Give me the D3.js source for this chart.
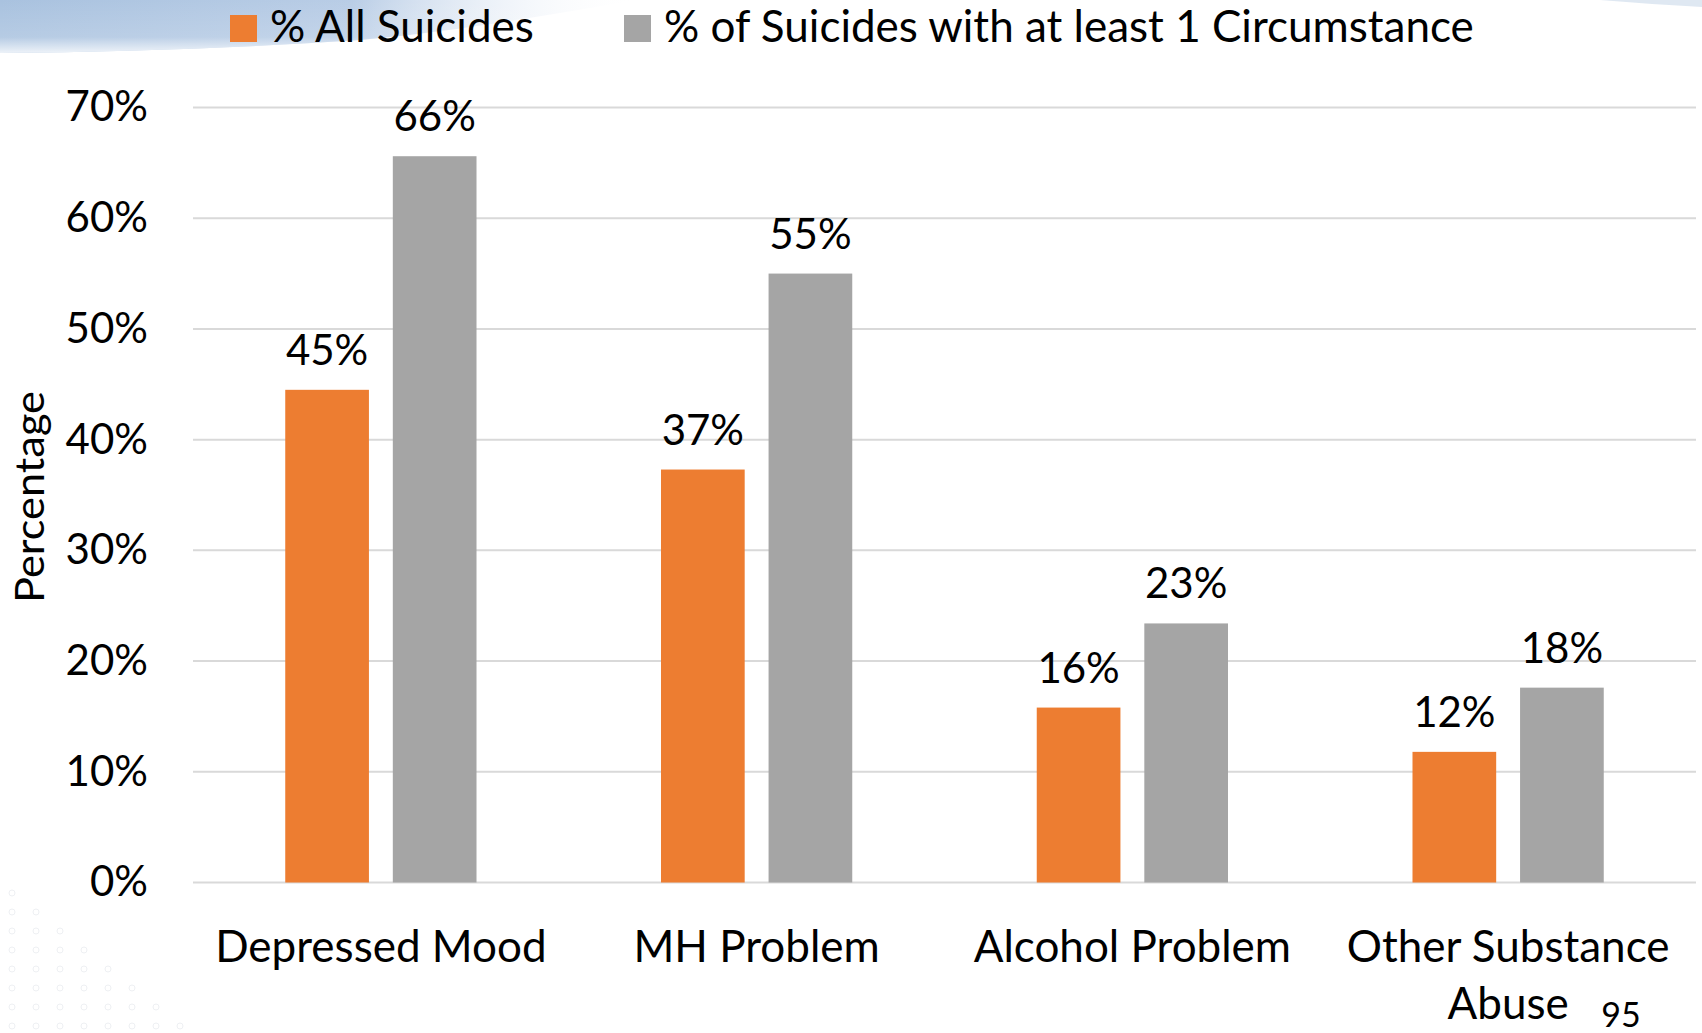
<!DOCTYPE html>
<html>
<head>
<meta charset="utf-8">
<script src="https://cdn.jsdelivr.net/npm/d3@7"></script>
<style>
    body { margin: 0; background: #fff; }
    svg { display: block; font-family: Lato, "Open Sans", sans-serif; }
</style>
</head>
<body>
<div id="chart"></div>
<script>
// chart data
const categories = ["Depressed Mood", "MH Problem", "Alcohol Problem", "Other Substance Abuse"];
const seriesNames = ["% All Suicides", "% of Suicides with at least 1 Circumstance"];
const allSuicides = [44.5, 37.3, 15.8, 11.8];
const withCircumstance = [65.6, 55.0, 23.4, 17.6];
const yTicks = [0, 10, 20, 30, 40, 50, 60, 70];
const pageNumber = "95";

const colors = ["#ED7D31", "#A5A5A5"];

let width = 1702, height = 1033;
let plot = { left: 193, right: 1696, top: 107.5, bottom: 882.5 };

let svg = d3.select("#chart").append("svg")
    .attr("width", width)
    .attr("height", height);

// background decoration (slide template)
let defs = svg.append("defs");
let grad = defs.append("linearGradient").attr("id", "sky").attr("x1", 0).attr("x2", 1).attr("y1", 0).attr("y2", 0);
grad.append("stop").attr("offset", "0%").attr("stop-color", "#a9c2df");
grad.append("stop").attr("offset", "55%").attr("stop-color", "#b9cde6");
grad.append("stop").attr("offset", "100%").attr("stop-color", "#ffffff").attr("stop-opacity", 0);
let grad2 = defs.append("linearGradient").attr("id", "skyv").attr("x1", 0).attr("x2", 0).attr("y1", 0).attr("y2", 1);
grad2.append("stop").attr("offset", "0%").attr("stop-color", "#ffffff").attr("stop-opacity", 0);
grad2.append("stop").attr("offset", "70%").attr("stop-color", "#ffffff").attr("stop-opacity", 0.15);
grad2.append("stop").attr("offset", "100%").attr("stop-color", "#ffffff").attr("stop-opacity", 0.8);

svg.append("path")
    .attr("d", "M0,0 L640,0 C560,12 470,30 360,40 C240,48 120,52 0,53 Z")
    .attr("fill", "url(#sky)");
svg.append("path")
    .attr("d", "M0,0 L640,0 C560,12 470,30 360,40 C240,48 120,52 0,53 Z")
    .attr("fill", "url(#skyv)");
svg.append("path")
    .attr("d", "M1600,0 L1702,0 L1702,7 C1670,5 1635,3 1600,0 Z")
    .attr("fill", "#c9d8ea").attr("opacity", 0.6);

// faint dot pattern bottom-left
let dots = [];
d3.range(8).forEach(r => d3.range(r + 1).forEach(c => dots.push([12 + c * 24, 893 + r * 19])));
svg.append("g").selectAll("circle")
    .data(dots)
    .enter().append("circle")
    .attr("cx", d => d[0]).attr("cy", d => d[1])
    .attr("r", 3)
    .attr("fill", "none")
    .attr("stroke", "#eef0f3")
    .attr("stroke-width", 1);

// scales
let x0 = d3.scaleBand()
    .domain(categories)
    .range([plot.left, plot.right])
    .paddingInner(0.491)
    .paddingOuter(0.2455);
let x1 = d3.scaleBand()
    .domain([0, 1])
    .range([0, x0.bandwidth()])
    .paddingInner(0.222);
let y = d3.scaleLinear().domain([0, 70]).range([plot.bottom, plot.top]);

// gridlines
svg.append("g")
    .selectAll("line")
    .data(yTicks)
    .enter().append("line")
    .attr("x1", plot.left).attr("x2", plot.right)
    .attr("y1", d => y(d)).attr("y2", d => y(d))
    .attr("stroke", "#d9d9d9")
    .attr("stroke-width", 2);

// y axis labels
let yAxis = svg.append("g")
    .attr("transform", `translate(${plot.left},0)`)
    .call(d3.axisLeft(y).tickValues(yTicks).tickFormat(d => d + "%").tickSize(0).tickPadding(45));
yAxis.select(".domain").remove();
yAxis.selectAll("text")
    .attr("font-family", "Lato, sans-serif")
    .attr("font-size", 42)
    .attr("fill", "#000");

svg.append("text")
    .attr("transform", `translate(44,${(plot.top + plot.bottom) / 2 + 2}) rotate(-90)`)
    .attr("text-anchor", "middle")
    .attr("font-size", 40)
    .attr("textLength", 212)
    .attr("lengthAdjust", "spacingAndGlyphs")
    .text("Percentage");

// bars
let rows = categories.map((c, i) => ({ cat: c, vals: [allSuicides[i], withCircumstance[i]] }));
let groups = svg.append("g")
    .selectAll("g")
    .data(rows)
    .enter().append("g")
    .attr("transform", d => `translate(${x0(d.cat)},0)`);

groups.selectAll("rect")
    .data(d => d.vals.map((v, k) => ({ k, v })))
    .enter().append("rect")
    .attr("x", d => x1(d.k))
    .attr("width", x1.bandwidth())
    .attr("y", d => y(d.v))
    .attr("height", d => y(0) - y(d.v))
    .attr("fill", d => colors[d.k]);

groups.selectAll("text.val")
    .data(d => d.vals.map((v, k) => ({ k, v })))
    .enter().append("text")
    .attr("class", "val")
    .attr("x", d => x1(d.k) + x1.bandwidth() / 2)
    .attr("y", d => y(d.v) - 25)
    .attr("text-anchor", "middle")
    .attr("font-size", 42)
    .text(d => Math.round(d.v) + "%");

// category labels (wrap the last one)
let catLines = { "Other Substance Abuse": ["Other Substance", "Abuse"] };
svg.append("g")
    .selectAll("text")
    .data(categories)
    .enter().append("text")
    .attr("x", d => x0(d) + x0.bandwidth() / 2)
    .attr("y", 962)
    .attr("text-anchor", "middle")
    .attr("font-size", 44)
    .each(function (d) {
        let lines = catLines[d] || [d];
        let t = d3.select(this);
        lines.forEach((l, i) => {
            t.append("tspan")
                .attr("x", x0(d) + x0.bandwidth() / 2)
                .attr("dy", i === 0 ? 0 : 57)
                .text(l);
        });
    });

// legend
let legend = svg.append("g");
let legendX = [230, 624];
seriesNames.forEach((name, i) => {
    legend.append("rect")
        .attr("x", legendX[i]).attr("y", 15)
        .attr("width", 27).attr("height", 27)
        .attr("fill", colors[i]);
    legend.append("text")
        .attr("x", legendX[i] + 40)
        .attr("y", 42)
        .attr("font-size", 44)
        .text(name);
});

// page number
svg.append("text")
    .attr("x", 1621).attr("y", 1027)
    .attr("text-anchor", "middle")
    .attr("font-size", 34)
    .text(pageNumber);
</script>
</body>
</html>
